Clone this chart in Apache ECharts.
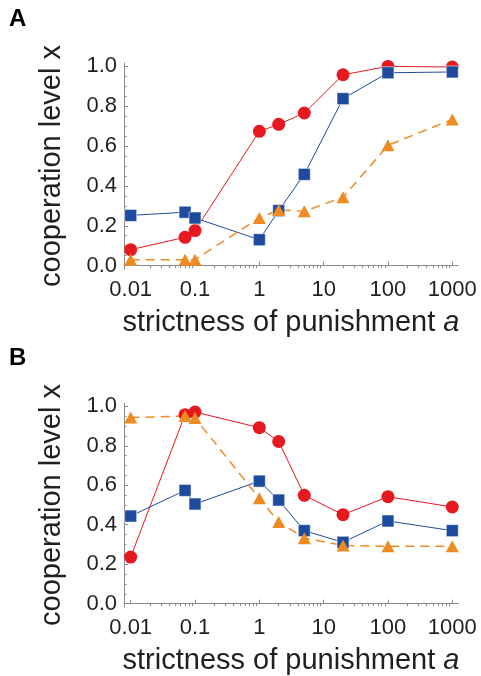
<!DOCTYPE html>
<html>
<head>
<meta charset="utf-8">
<script src="https://cdn.jsdelivr.net/npm/echarts@6/dist/echarts.min.js"></script>
<style>
html,body{margin:0;padding:0;background:#fff;}
#chart{width:481px;height:676px;}
</style>
</head>
<body>
<div id="chart"></div>
<script>
// strictness of punishment a (x values)
var strictness = [0.01, 0.07, 0.1, 1, 2, 5, 20, 100, 1000];
// Panel A
var aRed    = [0.080, 0.142, 0.176, 0.674, 0.709, 0.766, 0.958, 1.000, 0.997];
var aBlue   = [0.252, 0.268, 0.239, 0.130, 0.276, 0.458, 0.838, 0.968, 0.972];
var aOrange = [0.030, 0.030, 0.030, 0.239, 0.279, 0.273, 0.343, 0.604, 0.734];
// Panel B
var bRed    = [0.236, 0.958, 0.971, 0.892, 0.822, 0.549, 0.451, 0.542, 0.490];
var bBlue   = [0.444, 0.574, 0.505, 0.621, 0.525, 0.370, 0.311, 0.419, 0.370];
var bOrange = [0.943, 0.951, 0.941, 0.534, 0.414, 0.332, 0.295, 0.291, 0.291];
// tick labels
var xTicks = [0.01, 0.1, 1, 10, 100, 1000];
var xTickLabels = ['0.01', '0.1', '1', '10', '100', '1000'];
var xMinorTicks = [0.02,0.03,0.04,0.05,0.06,0.07,0.08,0.09,
                   0.2,0.3,0.4,0.5,0.6,0.7,0.8,0.9,
                   2,3,4,5,6,7,8,9,
                   20,30,40,50,60,70,80,90,
                   200,300,400,500,600,700,800,900];
var yTicks = [0, 0.2, 0.4, 0.6, 0.8, 1.0];
var yMinorTicks = [0.05,0.1,0.15,0.25,0.3,0.35,0.45,0.5,0.55,0.65,0.7,0.75,0.85,0.9,0.95];

var FONT = '"Liberation Sans", Arial, Helvetica, sans-serif';
var TXT = '#231f20';
var AX = '#8a8a8a';
var RED = '#e5191f', BLUE = '#1d4c9e', ORANGE = '#f08a22';

var chart = echarts.init(document.getElementById('chart'), null, {renderer: 'canvas'});

var grids = [
  {left: 124, top: 63, width: 334, height: 206},
  {left: 124, top: 403, width: 334, height: 206}
];
var XMIN = 0.00787, XMAX = 1227;
var YMIN = -0.017, YMAX = 1.017;

var xAxes = [], yAxes = [];
grids.forEach(function (g, gi) {
  xAxes.push({
    gridIndex: gi, type: 'log', logBase: 10, min: XMIN, max: XMAX,
    name: '{n|strictness of punishment }{i|a}',
    nameLocation: 'middle', nameGap: 39,
    nameTextStyle: {rich: {
      n: {fontFamily: FONT, fontSize: 29, color: TXT},
      i: {fontFamily: FONT, fontSize: 29, color: TXT, fontStyle: 'italic'}
    }},
    axisLine: {show: true, lineStyle: {color: AX, width: 1}},
    axisTick: {show: true, inside: true, length: 4, lineStyle: {color: AX}, customValues: xTicks},
    axisLabel: {show: true, customValues: xTicks, margin: 10, fontFamily: FONT, fontSize: 22, color: TXT,
      formatter: function (v) {
        for (var i = 0; i < xTicks.length; i++) if (Math.abs(Math.log10(v) - Math.log10(xTicks[i])) < 1e-6) return xTickLabels[i];
        return '';
      }},
    splitLine: {show: false}
  });
  xAxes.push({
    gridIndex: gi, type: 'log', logBase: 10, min: XMIN, max: XMAX,
    axisLine: {show: false},
    axisTick: {show: true, inside: true, length: 2.5, lineStyle: {color: AX}, customValues: xMinorTicks},
    axisLabel: {show: false},
    splitLine: {show: false}
  });
  yAxes.push({
    gridIndex: gi, type: 'value', min: YMIN, max: YMAX,
    name: 'cooperation level x',
    nameLocation: 'middle', nameGap: 58,
    nameTextStyle: {fontFamily: FONT, fontSize: 29, color: TXT},
    axisLine: {show: true, lineStyle: {color: AX, width: 1}},
    axisTick: {show: true, inside: true, length: 4, lineStyle: {color: AX}, customValues: yTicks},
    axisLabel: {show: true, customValues: yTicks, margin: 7, fontFamily: FONT, fontSize: 22, color: TXT,
      formatter: function (v) { return v.toFixed(1); }},
    splitLine: {show: false}
  });
  yAxes.push({
    gridIndex: gi, type: 'value', min: YMIN, max: YMAX, position: 'left',
    axisLine: {show: false},
    axisTick: {show: true, inside: true, length: 2.5, lineStyle: {color: AX}, customValues: yMinorTicks},
    axisLabel: {show: false},
    splitLine: {show: false}
  });
});

function pairs(xs, ys) { return xs.map(function (x, i) { return [x, ys[i]]; }); }

function mk(name, gi, ys, color, symbol, size, dashed) {
  return {
    name: name, type: 'line', xAxisIndex: gi * 2, yAxisIndex: gi * 2,
    data: pairs(strictness, ys),
    symbol: symbol, symbolSize: size, showSymbol: true,
    lineStyle: {color: color, width: dashed ? 1.5 : 1, type: dashed ? [9, 6] : 'solid'},
    itemStyle: {color: color, borderColor: symbol === 'rect' ? 'rgba(255,255,255,0.55)' : color, borderWidth: symbol === 'rect' ? 1 : 0},
    emphasis: {disabled: true},
    animation: false, z: 2
  };
}

var series = [
  mk('A red', 0, aRed, RED, 'circle', 13, false),
  mk('A blue', 0, aBlue, BLUE, 'rect', 12, false),
  mk('A orange', 0, aOrange, ORANGE, 'triangle', [13, 12], true),
  mk('B red', 1, bRed, RED, 'circle', 13, false),
  mk('B blue', 1, bBlue, BLUE, 'rect', 12, false),
  mk('B orange', 1, bOrange, ORANGE, 'triangle', [13, 12], true)
];

chart.setOption({
  backgroundColor: '#ffffff',
  animation: false,
  grid: grids,
  xAxis: xAxes,
  yAxis: yAxes,
  series: series,
  graphic: [
    {type: 'text', left: 9, top: 7, style: {text: 'A', fontFamily: FONT, fontWeight: 'bold', fontSize: 24, fill: '#000'}},
    {type: 'text', left: 9, top: 346, style: {text: 'B', fontFamily: FONT, fontWeight: 'bold', fontSize: 24, fill: '#000'}}
  ]
});
</script>
</body>
</html>
